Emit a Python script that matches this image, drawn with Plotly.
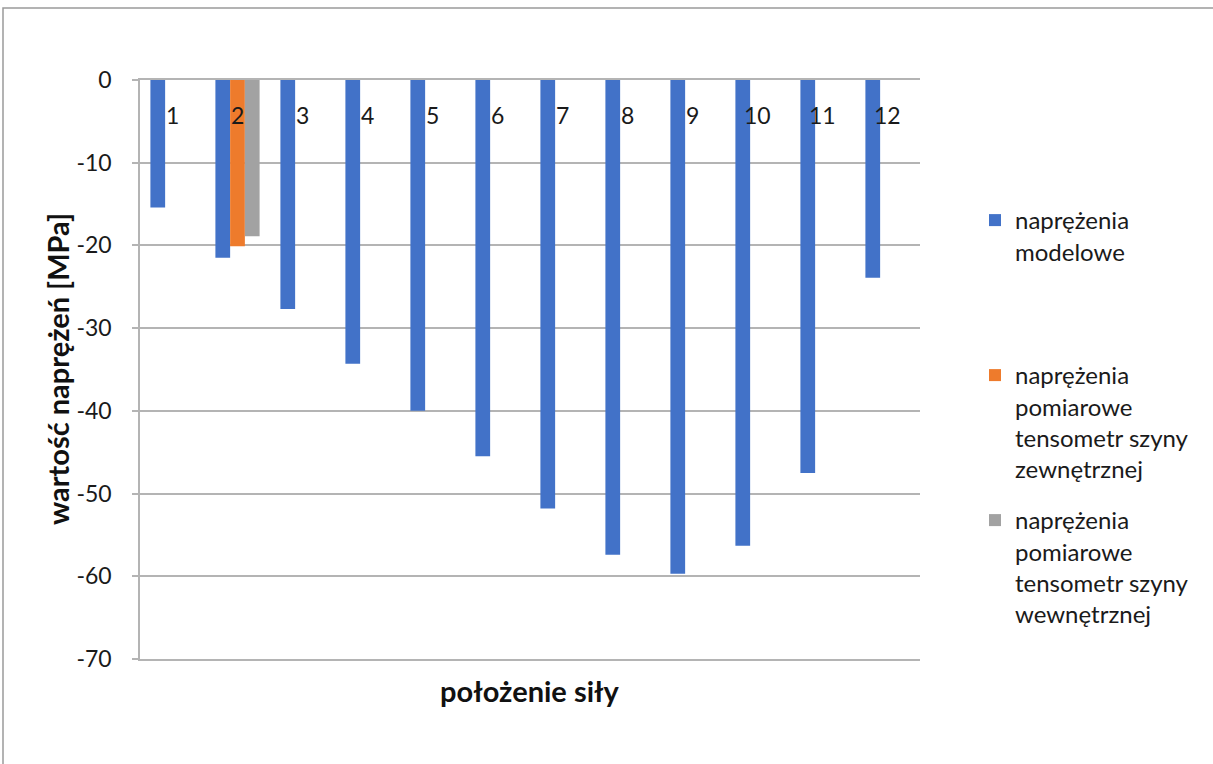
import plotly.graph_objects as go

# data
categories = ["1", "2", "3", "4", "5", "6", "7", "8", "9", "10", "11", "12"]
modelowe = [-15.4, -21.5, -27.7, -34.3, -40.0, -45.5, -51.8, -57.4, -59.7, -56.3, -47.5, -23.9]
pomiar_zewn = [None, -20.1, None, None, None, None, None, None, None, None, None, None]
pomiar_wewn = [None, -18.9, None, None, None, None, None, None, None, None, None, None]
y_ticks = [0, -10, -20, -30, -40, -50, -60, -70]
y_labels = ["0", "-10", "-20", "-30", "-40", "-50", "-60", "-70"]

names = [
    "naprężenia<br>modelowe",
    "naprężenia<br>pomiarowe<br>tensometr szyny<br>zewnętrznej",
    "naprężenia<br>pomiarowe<br>tensometr szyny<br>wewnętrznej",
]
colors = ["#4272c8", "#ee7b2c", "#a2a2a2"]

W, H = 1213, 764
L, R, T, B = 140, 920, 80, 659  # plot area in pixels


def px(x):
    return (x - L) / (R - L)


def py(y):
    return (B - y) / (B - T)


FONT = "Lato"
GRID = "#b4b4b4"
TXT = "#1a1a1a"

fig = go.Figure()
series = [modelowe, pomiar_zewn, pomiar_wewn]
legends = ["legend", "legend2", "legend3"]
for vals, name, col, lg in zip(series, names, colors, legends):
    fig.add_trace(go.Bar(x=categories, y=vals, name=name, marker_color=col,
                         marker_line_width=0, legend=lg, showlegend=True))

legend_style = dict(xanchor="left", yanchor="top", valign="top", visible=True,
                    bgcolor="rgba(0,0,0,0)",
                    font=dict(family=FONT, size=24, color=TXT))

fig.update_layout(
    width=W, height=H,
    margin=dict(l=L, r=W - R, t=T, b=H - B, pad=0),
    paper_bgcolor="white", plot_bgcolor="white",
    barmode="group", bargap=0.32, bargroupgap=0,
    showlegend=True,
    font=dict(family=FONT, color=TXT),
    legend=dict(x=px(975), y=py(198), **legend_style),
    legend2=dict(x=px(975), y=py(353), **legend_style),
    legend3=dict(x=px(975), y=py(498), **legend_style),
)

fig.update_xaxes(
    type="category", showticklabels=False, ticks="", automargin=False,
    showgrid=False, showline=True, mirror=True,
    linecolor=GRID, linewidth=1.5,
)

fig.update_yaxes(
    range=[-70, 0], tickvals=y_ticks, ticktext=y_labels,
    ticks="outside", ticklen=6, automargin=False,
    tickcolor=GRID, tickwidth=1.5, ticklabelstandoff=16,
    tickfont=dict(family=FONT, size=23, color=TXT),
    showgrid=True, gridcolor=GRID, gridwidth=1.5,
    showline=True, linecolor=GRID, linewidth=1.5, zeroline=False,
)

# category labels just below the zero line (x given as category index)
for i, c in enumerate(categories):
    fig.add_annotation(text=c, x=i, y=0, xref="x", yref="y",
                       xanchor="center", yanchor="top", yshift=-19,
                       showarrow=False, font=dict(family=FONT, size=23, color=TXT))

# axis titles
fig.add_annotation(text="<b>wartość naprężeń [MPa]</b>", textangle=-90,
                   xref="paper", yref="paper", x=px(57), y=py(369),
                   xanchor="center", yanchor="middle",
                   showarrow=False, font=dict(family=FONT, size=29, color="#111"))
fig.add_annotation(text="<b>położenie siły</b>",
                   xref="paper", yref="paper", x=0.5, y=py(690),
                   xanchor="center", yanchor="middle",
                   showarrow=False, font=dict(family=FONT, size=29, color="#111"))

# chart area border
fig.add_shape(type="rect", xref="paper", yref="paper",
              x0=px(3), x1=px(W + 30), y0=py(H + 30), y1=py(8),
              line=dict(color="#9a9a9a", width=1.5), fillcolor="rgba(0,0,0,0)",
              layer="below")

fig.write_html("out.html", config={"displayModeBar": False},
               post_script="document.body.style.margin='0';")
